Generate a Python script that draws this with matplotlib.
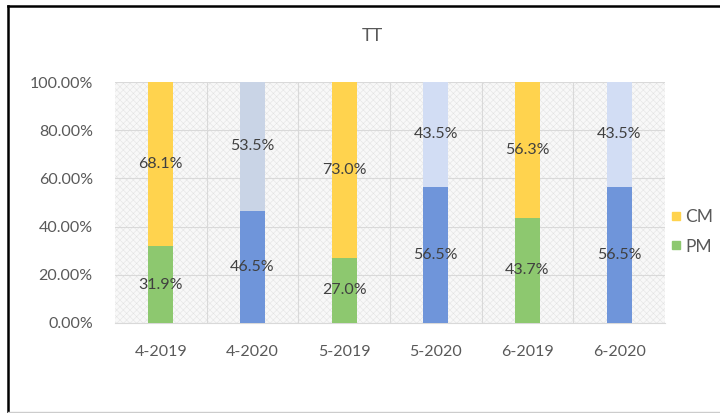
import matplotlib.pyplot as plt
from matplotlib.patches import Rectangle
from matplotlib.lines import Line2D
from matplotlib.ticker import FuncFormatter

plt.rcParams['font.family'] = ['Lato', 'DejaVu Sans']
plt.rcParams['hatch.linewidth'] = 0.35

categorias = ['4-2019', '4-2020', '5-2019', '5-2020', '6-2019', '6-2020']
pm = [31.9, 46.5, 27.0, 56.5, 43.7, 56.5]
cm = [68.1, 53.5, 73.0, 43.5, 56.3, 43.5]
# colores de cada barra (abajo, arriba)
color_abajo = ['#8DC86F', '#6F95DA', '#8DC86F', '#6F95DA', '#8DC86F', '#6F95DA']
color_arriba = ['#FFD34E', '#C9D4E6', '#FFD34E', '#D2DDF4', '#FFD34E', '#D2DDF4']

fig = plt.figure(figsize=(7.2, 4.13), dpi=100)
ax = fig.add_axes([115 / 720, 1 - 323 / 413, 550 / 720, 241 / 413])

# fondo rayado del area de trazado
ax.add_patch(Rectangle((0, 0), 1, 1, transform=ax.transAxes, facecolor='#f8f8f8',
                       edgecolor='#e2e2e2', hatch='xxxxx', lw=0, zorder=0))

x = range(len(categorias))
ax.bar(x, pm, width=0.27, color=color_abajo, zorder=3)
ax.bar(x, cm, width=0.27, bottom=pm, color=color_arriba, zorder=3)

for i in x:
    ax.text(i, pm[i] / 2, f'{pm[i]:.1f}%', ha='center', va='center',
            fontsize=11.5, color='#404040', zorder=4)
    ax.text(i, pm[i] + cm[i] / 2, f'{cm[i]:.1f}%', ha='center', va='center',
            fontsize=11.5, color='#404040', zorder=4)

ax.set_xlim(-0.5, 5.5)
ax.set_ylim(0, 100)
ax.set_yticks(range(0, 101, 20))
ax.yaxis.set_major_formatter(FuncFormatter(lambda v, p: f'{v:.2f}%'))
ax.set_xticks(list(x))
ax.set_xticklabels(categorias)
ax.tick_params(length=0, labelsize=11.5, labelcolor='#595959')
ax.tick_params(axis='x', pad=16)
ax.tick_params(axis='y', pad=16)
for i in range(1, 6):
    ax.axvline(i - 0.5, color='#d9d9d9', lw=0.8, zorder=1)
ax.yaxis.grid(True, color='#d9d9d9', lw=0.8, zorder=1)
ax.set_axisbelow(True)
for s in ax.spines.values():
    s.set_visible(False)
ax.spines['bottom'].set_visible(True)
ax.spines['bottom'].set_color('#d9d9d9')

fig.text(372 / 720, 1 - 36 / 413, 'TT', ha='center', va='center', fontsize=13, color='#595959')

handles = [Line2D([], [], marker='s', ls='', color='#FFD34E', markersize=6),
           Line2D([], [], marker='s', ls='', color='#8DC86F', markersize=6)]
fig.legend(handles, ['CM', 'PM'], loc='center left', bbox_to_anchor=(669 / 720, 1 - 232 / 413),
           frameon=False, fontsize=12.5, labelcolor='#595959', handletextpad=0.15,
           labelspacing=0.75, handlelength=0.8, borderpad=0, borderaxespad=0)

# marco de la figura
fig.add_artist(Line2D([8 / 720, 8 / 720], [0.002, 1 - 6 / 413], color='black', lw=1.8))
fig.add_artist(Line2D([8 / 720, 1], [1 - 6 / 413, 1 - 6 / 413], color='black', lw=1.8))
fig.add_artist(Line2D([8 / 720, 1], [0.002, 0.002], color='#cccccc', lw=1))

fig.savefig('out.png', dpi=100)
